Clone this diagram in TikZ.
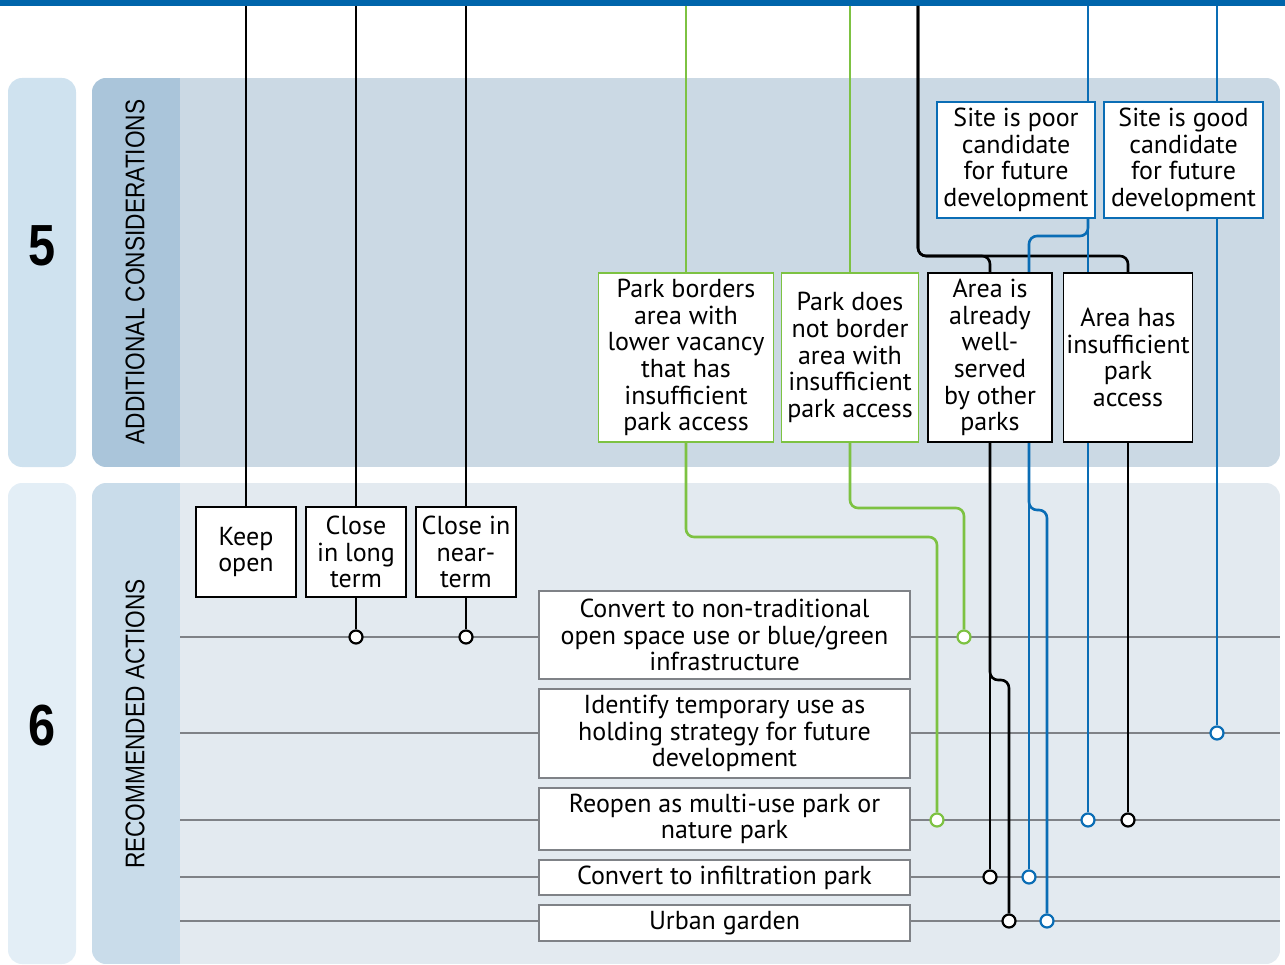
\documentclass[tikz,border=0pt]{standalone}
\usepackage{fontspec}
\setmainfont{PT Sans}
\newfontfamily\condfont[FakeStretch=0.84]{Liberation Sans}

\definecolor{topblue}{HTML}{0065AB}
\definecolor{lineblue}{HTML}{0A6DB5}
\definecolor{linegreen}{HTML}{7DC242}
\definecolor{rowgray}{HTML}{7F8287}
\definecolor{panelA}{HTML}{CBD9E4}
\definecolor{stripA}{HTML}{AAC5DA}
\definecolor{colA}{HTML}{CFE2EF}
\definecolor{panelB}{HTML}{E3EAF0}
\definecolor{stripB}{HTML}{C9DCEA}
\definecolor{colB}{HTML}{E3EEF6}

\pgfdeclarelayer{back}
\pgfdeclarelayer{wires}
\pgfsetlayers{back,wires,main}

\tikzset{
  box/.style={draw, fill=white, align=center, inner sep=0pt, line width=1.5pt,
    font=\fontsize{26}{26.6}\selectfont},
  gbox/.style={box, draw=linegreen},
  bbox/.style={box, draw=lineblue},
  abox/.style={box, draw=rowgray, minimum width=371},
  kline/.style={line width=2.6pt, rounded corners=8pt},
  gline/.style={kline, linegreen},
  bline/.style={kline, lineblue},
  row/.style={rowgray, line width=2.8pt},
  dot/.style={circle, draw=#1, fill=white, line width=2.2pt, minimum size=13pt, inner sep=0pt},
  tag/.style={font=\condfont\fontsize{27}{27}\selectfont, rotate=90},
  stepnum/.style={font=\condfont\bfseries\fontsize{58}{58}\selectfont}
}

\begin{document}
\begin{tikzpicture}[x=1pt, y=-1pt]
  \useasboundingbox (0,0) rectangle (1285,965);

  % 背景
  \begin{pgfonlayer}{back}
    \fill[topblue] (0,0) rectangle (1285,6);
    \fill[colA, rounded corners=14pt] (8,78) rectangle (76,467);
    \fill[colB, rounded corners=14pt] (8,483) rectangle (76,964);
    \begin{scope}
      \clip[rounded corners=14pt] (92,78) rectangle (1280,467);
      \fill[stripA] (92,78) rectangle (180,467);
      \fill[panelA] (180,78) rectangle (1280,467);
    \end{scope}
    \begin{scope}
      \clip[rounded corners=14pt] (92,483) rectangle (1280,964);
      \fill[stripB] (92,483) rectangle (180,964);
      \fill[panelB] (180,483) rectangle (1280,964);
    \end{scope}
  \end{pgfonlayer}

  \node[stepnum] (n5) at (42,246) {5};
  \node[stepnum] (n6) at (42,726) {6};
  \node[tag] (t5) at (135,272) {ADDITIONAL CONSIDERATIONS};
  \node[tag] (t6) at (135,724) {RECOMMENDED ACTIONS};

  \coordinate (top) at (0,6);

  % 条件框
  \node[bbox, minimum width=158, minimum height=116] (poor) at (1016,160)
    {Site is poor\\candidate\\for future\\development};
  \node[bbox, minimum width=159, minimum height=116] (good) at (1183.5,160)
    {Site is good\\candidate\\for future\\development};
  \node[gbox, minimum width=175, minimum height=169] (border) at (686,357.5)
    {Park borders\\area with\\lower vacancy\\that has\\insufficient\\park access};
  \node[gbox, minimum width=137, minimum height=169] (noborder) at (850,357.5)
    {Park does\\not border\\area with\\insufficient\\park access};
  \node[box, minimum width=124, minimum height=169] (served) at (990,357.5)
    {Area is\\already\\well-\\served\\by other\\parks};
  \node[box, minimum width=129, minimum height=169] (lack) at (1128,357.5)
    {Area has\\insufficient\\park\\access};

  % 建议行动
  \node[box, minimum width=100, minimum height=90] (keep) at (246,552) {Keep\\open};
  \node[box, minimum width=100, minimum height=90] (long) at (356,552) {Close\\in long\\term};
  \node[box, minimum width=100, minimum height=90] (near) at (466,552) {Close in\\near-\\term};

  \node[abox, minimum height=88] (infra) at (724.5,635)
    {Convert to non-traditional\\open space use or blue/green\\infrastructure};
  \node[abox, minimum height=89] (temp) at (724.5,733.5)
    {Identify temporary use as\\holding strategy for future\\development};
  \node[abox, minimum height=62] (reopen) at (724.5,819)
    {Reopen as multi-use park or\\nature park};
  \node[abox, minimum height=35] (infil) at (724.5,877.5) {Convert to infiltration park};
  \node[abox, minimum height=36] (garden) at (724.5,923) {Urban garden};

  % 连接点
  \node[dot=black] (k1) at (356,637) {};
  \node[dot=black] (k2) at (466,637) {};
  \node[dot=linegreen] (g1) at (964,637) {};
  \node[dot=lineblue] (b2) at (1217,733) {};
  \node[dot=linegreen] (g3) at (937,820) {};
  \node[dot=lineblue] (b3) at (1088,820) {};
  \node[dot=black] (k4) at (1128,820) {};
  \node[dot=black] (k3) at (990,877) {};
  \node[dot=lineblue] (b4) at (1029,877) {};
  \node[dot=black] (k5) at (1009,921) {};
  \node[dot=lineblue] (b5) at (1047,921) {};

  \begin{pgfonlayer}{wires}
    % 行线
    \foreach \y in {637,733,820,877,921}
      \draw[row] (180,\y) -- (1280,\y);

    \draw[kline] (keep.north |- top) -- (keep.north);
    \draw[kline] (long.north |- top) -- (long.north);
    \draw[kline] (near.north |- top) -- (near.north);
    \draw[kline] (long.south) -- (k1);
    \draw[kline] (near.south) -- (k2);

    \draw[gline] (border.north |- top) -- (border.north);
    \draw[gline] (noborder.north |- top) -- (noborder.north);
    \draw[gline] (border.south) |- (g3 |- 0,537) -- (g3);
    \draw[gline] (noborder.south) |- (g1 |- 0,508) -- (g1);

    \draw[kline] (918,6) |- (lack.north |- 0,256) -- (lack.north);
    \draw[kline] (918,6) |- (served.north |- 0,256) -- (served.north);
    \draw[kline] (served.south) -- (k3);
    \draw[kline] (served.south) |- (k5 |- 0,680) -- (k5);
    \draw[kline] (lack.south) -- (k4);

    \draw[bline] (b3 |- top) -- (b3);
    \draw[bline] (b2 |- top) -- (b2);
    \draw[bline] (b3 |- poor.south) |- (b4 |- 0,236) -- (b4 |- served.north);
    \draw[bline] (b4 |- served.south) -- (b4);
    \draw[bline] (b4 |- served.south) |- (b5 |- 0,510) -- (b5);
  \end{pgfonlayer}
\end{tikzpicture}
\end{document}
